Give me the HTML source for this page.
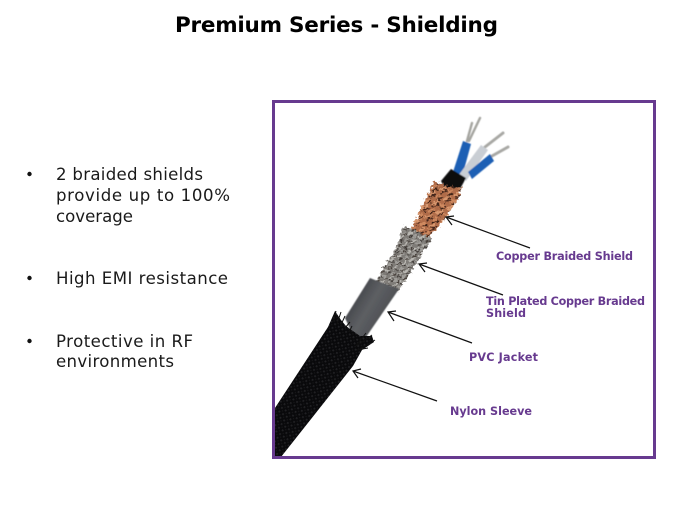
<!DOCTYPE html>
<html>
<head>
<meta charset="utf-8">
<style>
html,body{margin:0;padding:0;background:#fff;width:675px;height:506px;overflow:hidden}
svg{display:block}
text{font-family:"DejaVu Sans","Liberation Sans",sans-serif}
.b{font-size:16.6px;fill:#1a1a1a}
.l{font-size:11.2px;font-weight:bold;fill:#673a8f}
</style>
</head>
<body>
<svg width="675" height="506" viewBox="0 0 675 506" xmlns="http://www.w3.org/2000/svg">
<defs>
<pattern id="nylon" width="4.5" height="4.5" patternUnits="userSpaceOnUse" patternTransform="rotate(35)">
<rect width="4.5" height="4.5" fill="#09090b"/>
<rect x="0.5" y="0.5" width="1.8" height="1.8" fill="#212124"/>
<rect x="3" y="3" width="1.2" height="1.2" fill="#18181a"/>
</pattern>
<pattern id="copper" width="12" height="10" patternUnits="userSpaceOnUse" patternTransform="rotate(-22)">
<rect width="12" height="10" fill="#b06c49"/>
<rect x="0" y="0" width="8" height="2.2" fill="#d9996f"/>
<rect x="6" y="5" width="6" height="2.2" fill="#cf8a60"/>
<rect x="1" y="3" width="6" height="1.8" fill="#43251a"/>
<rect x="6" y="8" width="6" height="1.8" fill="#3a2016"/>
</pattern>
<pattern id="tin" width="9" height="8" patternUnits="userSpaceOnUse" patternTransform="rotate(-25)">
<rect width="9" height="8" fill="#7f7c78"/>
<rect x="0" y="0" width="6" height="2" fill="#b9b7b2"/>
<rect x="4" y="4" width="5" height="2" fill="#a09e9a"/>
<rect x="0" y="3" width="4" height="1.5" fill="#3e3935"/>
<rect x="5" y="6.5" width="4" height="1.5" fill="#4a433e"/>
</pattern>
<linearGradient id="jk" x1="345" y1="290" x2="395" y2="320" gradientUnits="userSpaceOnUse">
<stop offset="0" stop-color="#35373b"/>
<stop offset=".5" stop-color="#5d5f63"/>
<stop offset="1" stop-color="#45474b"/>
</linearGradient>
<filter id="rough" x="-15%" y="-15%" width="130%" height="130%">
<feTurbulence type="fractalNoise" baseFrequency="0.35" numOctaves="2" seed="4" result="n"/>
<feDisplacementMap in="SourceGraphic" in2="n" scale="7" xChannelSelector="R" yChannelSelector="G"/>
<feGaussianBlur stdDeviation="0.35"/>
</filter>
<filter id="soft" x="-10%" y="-10%" width="120%" height="120%">
<feGaussianBlur stdDeviation="0.5"/>
</filter>
</defs>

<rect width="675" height="506" fill="#fff"/>

<text x="175" y="32" font-size="21.5" font-weight="bold" fill="#000" textLength="323" lengthAdjust="spacing">Premium Series - Shielding</text>

<circle cx="29.5" cy="174" r="2.2" fill="#111"/>
<circle cx="29.5" cy="278" r="2.2" fill="#111"/>
<circle cx="29.5" cy="341" r="2.2" fill="#111"/>
<text class="b" x="56" y="180" textLength="147">2 braided shields</text>
<text class="b" x="56" y="201" textLength="174">provide up to 100%</text>
<text class="b" x="56" y="222" textLength="77">coverage</text>
<text class="b" x="56" y="284" textLength="172">High EMI resistance</text>
<text class="b" x="56" y="347" textLength="137">Protective in RF</text>
<text class="b" x="56" y="367" textLength="118">environments</text>

<!-- wires -->
<g filter="url(#soft)">
<g fill="none" stroke-linecap="round">
<path d="M467 141 L472 123 M469 141 L480 118" stroke="#a5a5a0" stroke-width="2.4"/>
<path d="M485 147 L503 133" stroke="#a8a8a4" stroke-width="3"/>
<path d="M492 156 L508 147" stroke="#a8a8a4" stroke-width="3"/>
</g>
<path d="M453 172 L463 141 L471 144 L462 177 Z" fill="#1f5fb4"/>
<path d="M458 176 L481 145 L488 150 L466 181 Z" fill="#c9ced4"/>
<path d="M468 172 L490 154 L494 161 L472 179 Z" fill="#1f5fb4"/>
<path d="M441 181 L451 169 L466 178 L460 189 L446 190 Z" fill="#08080a"/>
</g>

<!-- copper braid -->
<g filter="url(#rough)">
<path d="M411 229 L431 188 L433 181 L447 186 L462 188 L459 197 L444 220 L429 237 L418 233 Z" fill="url(#copper)"/>
</g>

<!-- tin braid -->
<g filter="url(#rough)">
<path d="M375 283 L392 254 L400 238 L403 226 L414 230 L432 239 L426 248 L405 281 L398 292 L388 287 Z" fill="url(#tin)"/>
</g>

<!-- PVC jacket -->
<path d="M345 318 L370 278 L380 282 L399 289 L364 340 L352 333 Z" fill="url(#jk)" filter="url(#soft)"/>

<!-- nylon sleeve -->
<path d="M273 411 L328 327 L335 311 L341 320 L346 326 L360 336 L372 336 L374 342 L362 350 L353 366 L281 457 L273 457 Z" fill="url(#nylon)"/>
<g stroke="#111" stroke-width="1" fill="none">
<path d="M333 322 L336 311 M337 324 L341 312 M340 327 L345 316 M345 328 L350 322 M349 332 L352 326"/>
<path d="M358 345 L372 335 M360 349 L375 340 M357 350 L368 348 M356 346 L366 333"/>
</g>

<!-- arrows -->
<g fill="none" stroke="#111" stroke-width="1.2">
<path d="M530 248 L446 217 M454 216 L446 217 L452 225"/>
<path d="M503 295 L419 264 M427 263 L419 264 L425 272"/>
<path d="M472 343 L388 312 M396 311 L388 312 L394 321"/>
<path d="M437 401 L353 371 M361 369 L353 371 L358 378"/>
</g>

<text class="l" x="496" y="260" textLength="137">Copper Braided Shield</text>
<text class="l" x="486" y="305" textLength="159">Tin Plated Copper Braided</text>
<text class="l" x="486" y="317" textLength="40">Shield</text>
<text class="l" x="469" y="361" textLength="69">PVC Jacket</text>
<text class="l" x="450" y="415" textLength="82">Nylon Sleeve</text>

<!-- frame -->
<rect x="273.5" y="101.5" width="381" height="356" fill="none" stroke="#673a8f" stroke-width="3"/>
</svg>
</body>
</html>
